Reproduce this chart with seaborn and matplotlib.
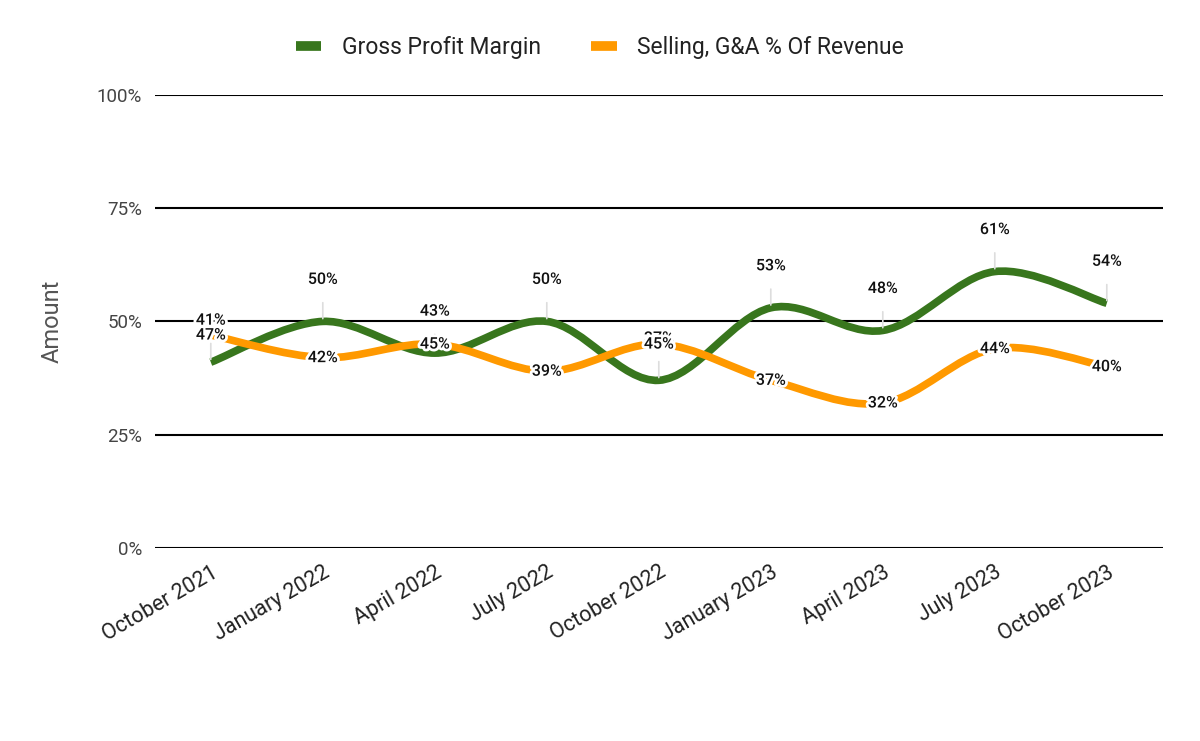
import matplotlib
matplotlib.use("Agg")
import matplotlib.pyplot as plt
import matplotlib.patheffects as pe
from matplotlib.path import Path
from matplotlib.patches import PathPatch
from matplotlib.lines import Line2D
from matplotlib.ticker import PercentFormatter
import numpy as np
import seaborn as sns

quarters = [
    "October 2021", "January 2022", "April 2022", "July 2022", "October 2022",
    "January 2023", "April 2023", "July 2023", "October 2023",
]
gross_margin = [41, 50, 43, 50, 37, 53, 48, 61, 54]
sga_pct = [47, 42, 45, 39, 45, 37, 32, 44, 40]

GREEN = "#38761d"
ORANGE = "#ff9900"

sns.set_theme(style="white")
plt.rcParams["font.family"] = ["Roboto", "DejaVu Sans"]


def smooth_path(xs, ys):
    # Catmull-Rom style bezier through the points (drawing style only)
    pts = np.column_stack([xs, ys]).astype(float)
    padded = np.vstack([pts[0], pts, pts[-1]])
    verts = [tuple(pts[0])]
    codes = [Path.MOVETO]
    for i in range(1, len(padded) - 2):
        p0, p1, p2, p3 = padded[i - 1], padded[i], padded[i + 1], padded[i + 2]
        c1 = p1 + (p2 - p0) / 6.0
        c2 = p2 - (p3 - p1) / 6.0
        verts += [tuple(c1), tuple(c2), tuple(p2)]
        codes += [Path.CURVE4] * 3
    return Path(verts, codes)


fig, ax = plt.subplots(figsize=(12, 7.41), dpi=100)
fig.subplots_adjust(left=0.129, right=0.969, top=0.872, bottom=0.2605)

x = np.arange(len(quarters))
for vals, color in [(gross_margin, GREEN), (sga_pct, ORANGE)]:
    patch = PathPatch(smooth_path(x, vals), facecolor="none", edgecolor=color,
                      linewidth=5.5, capstyle="butt", joinstyle="round", zorder=3)
    ax.add_patch(patch)

halo = [pe.withStroke(linewidth=4, foreground="white")]
for xi, v in zip(x, gross_margin):
    ax.annotate(f"{v}%", xy=(xi, v), xytext=(0, 42), textcoords="offset pixels",
                ha="center", va="center", fontsize=11.5, fontweight="medium",
                color="#111111", path_effects=halo, zorder=5,
                arrowprops=dict(arrowstyle="-", color="#dddddd", lw=1.2,
                                shrinkA=9, shrinkB=2))
for xi, v in zip(x, sga_pct):
    ax.text(xi, v, f"{v}%", ha="center", va="center", fontsize=11.5,
            fontweight="medium", color="#111111", path_effects=halo, zorder=6)

ax.set_xlim(-0.5, len(quarters) - 0.5)
ax.set_ylim(0, 100)
ax.set_yticks([0, 25, 50, 75, 100])
ax.yaxis.set_major_formatter(PercentFormatter(decimals=0))
ax.set_xticks(x)
ax.set_xticklabels(quarters, rotation=30, ha="right", rotation_mode="anchor")
ax.tick_params(axis="x", labelsize=15.5, colors="#222222", length=0, pad=10)
ax.tick_params(axis="y", labelsize=13.5, colors="#444444", length=0, pad=9)

ax.grid(axis="y", color="black", linewidth=1.5)
ax.grid(axis="x", visible=False)
for s in ax.spines.values():
    s.set_visible(False)
ax.set_axisbelow(True)

ax.set_ylabel("Amount", fontsize=17, color="#555555", labelpad=24)

handles = [Line2D([], [], color=GREEN, linewidth=7, solid_capstyle="butt"),
           Line2D([], [], color=ORANGE, linewidth=7, solid_capstyle="butt")]
fig.legend(handles, ["Gross Profit Margin", "Selling, G&A % Of Revenue"],
           loc="center", bbox_to_anchor=(0.5, 0.936), ncol=2, frameon=False,
           fontsize=16.5, handlelength=1.1, columnspacing=2.2, handletextpad=0.9,
           labelcolor="#222222")

fig.savefig("out.png", dpi=100)
